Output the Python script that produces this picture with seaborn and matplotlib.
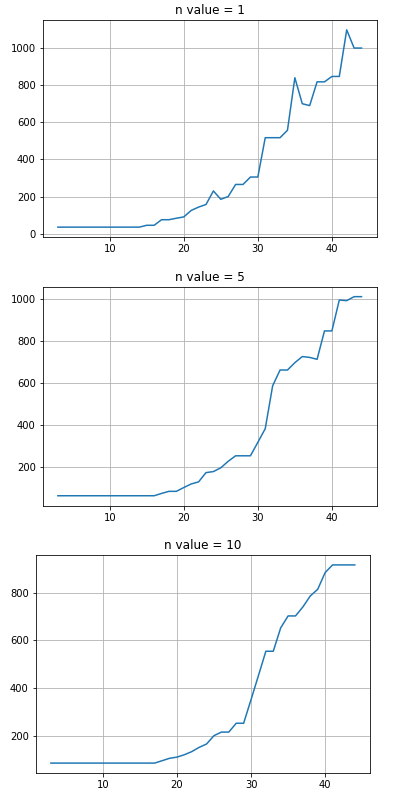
import matplotlib
matplotlib.use("Agg")
import matplotlib.pyplot as plt
import seaborn as sns
import pandas as pd

x_vals = list(range(3, 45))

n1_vals = [35]*12 + [45, 45, 75, 75, 83, 90, 125, 143, 157, 230, 185, 200,
           265, 265, 305, 305, 517, 517, 517, 557, 840, 700, 690, 818, 818,
           847, 847, 1098, 1000, 1000]

n5_vals = [65]*14 + [76, 86, 86, 104, 121, 131, 175, 180, 198, 229, 255, 255,
           255, 319, 384, 588, 663, 663, 698, 727, 723, 714, 849, 849, 996,
           993, 1012, 1012]

n10_vals = [85]*15 + [95, 105, 110, 120, 133, 151, 165, 200, 215, 215, 252,
            252, 351, 452, 554, 554, 652, 702, 702, 740, 786, 814, 884, 916,
            916, 916, 916]

titles = ["n value = 1", "n value = 5", "n value = 10"]
series = [n1_vals, n5_vals, n10_vals]

W, H = 394, 806
fig = plt.figure(figsize=(W / 72, H / 72), dpi=72)

# axes boxes in pixels: left, top, right, bottom
boxes = [(42.7, 20, 376.7, 237), (42.7, 286.7, 376.7, 505.7), (35.7, 555, 370, 773)]

for (l, t, r, b), ttl, vals in zip(boxes, titles, series):
    ax = fig.add_axes([l / W, 1 - b / H, (r - l) / W, (b - t) / H])
    df = pd.DataFrame({"x": x_vals[:len(vals)], "y": vals})
    sns.lineplot(data=df, x="x", y="y", ax=ax, color="#1f77b4", linewidth=1.5)
    ax.grid(True, color="#b0b0b0", linewidth=0.8)
    ax.set_axisbelow(True)
    ax.set_title(ttl, fontsize=12)
    ax.set_xlabel("")
    ax.set_ylabel("")
    ax.set_xticks([10, 20, 30, 40])

fig.savefig("out.png", dpi=72, facecolor="white")
